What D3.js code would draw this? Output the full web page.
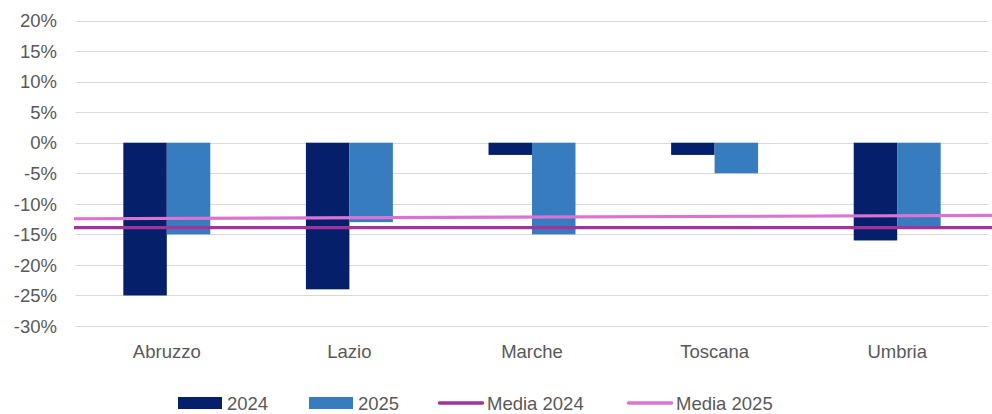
<!DOCTYPE html>
<html>
<head>
<meta charset="utf-8">
<script src="https://cdn.jsdelivr.net/npm/d3@7"></script>
<style>
  html, body { margin: 0; padding: 0; background: #ffffff; }
  svg text { font-family: "Liberation Sans", Arial, sans-serif; fill: #595959; }
</style>
</head>
<body>
<svg id="chart" width="992" height="414"></svg>
<script>
const categories = ["Abruzzo", "Lazio", "Marche", "Toscana", "Umbria"];
const values2024 = [-25, -24, -2, -2, -16];
const values2025 = [-15, -13, -15, -5, -14];
const media2024 = [-13.9, -13.9];   // left end, right end
const media2025 = [-12.45, -11.9];  // left end, right end
const yTicks = [20, 15, 10, 5, 0, -5, -10, -15, -20, -25, -30];
const seriesNames = ["2024", "2025", "Media 2024", "Media 2025"];

const colors = {
  "2024": "#061F6B",
  "2025": "#367CBF",
  "Media 2024": "#A1349A",
  "Media 2025": "#DA73D2"
};

const FS = 18.5;
const svg = d3.select("#chart");
const plotLeft = 75.5, plotRight = 988.5, plotTop = 20.5, plotBottom = 326;

const y = d3.scaleLinear().domain([-30, 20]).range([plotBottom, plotTop]);
const x = d3.scaleBand().domain(categories).range([plotLeft, plotRight]).paddingInner(0).paddingOuter(0);
const inner = d3.scaleBand().domain(["2024", "2025"]).range([0, x.bandwidth()]).paddingInner(0).paddingOuter(1.1);

// gridlines
svg.append("g").selectAll("line").data(yTicks).join("line")
  .attr("x1", plotLeft).attr("x2", plotRight)
  .attr("y1", d => Math.round(y(d)) + 0.5).attr("y2", d => Math.round(y(d)) + 0.5)
  .attr("stroke", "#d9d9d9").attr("stroke-width", 1.2);

// y axis labels
const yAxis = d3.axisLeft(y).tickValues(yTicks).tickSize(0).tickPadding(0)
  .tickFormat(d => d + "%");
svg.append("g").attr("transform", `translate(57,0)`).call(yAxis)
  .call(g => g.select(".domain").remove())
  .selectAll("text").attr("font-size", FS).style("font-family", "\"Liberation Sans\", Arial, sans-serif").attr("fill", "#595959").attr("dy", "0.34em");

// bars
const data = categories.map((c, i) => ({ c, v: [{ s: "2024", v: values2024[i] }, { s: "2025", v: values2025[i] }] }));
const groups = svg.append("g").selectAll("g").data(data).join("g")
  .attr("transform", d => `translate(${x(d.c)},0)`);
groups.selectAll("rect").data(d => d.v).join("rect")
  .attr("x", d => inner(d.s))
  .attr("width", inner.bandwidth())
  .attr("y", d => y(Math.max(0, d.v)))
  .attr("height", d => Math.abs(y(d.v) - y(0)))
  .attr("fill", d => colors[d.s]);

// category labels
const xAxis = d3.axisBottom(x).tickSize(0).tickPadding(0);
svg.append("g").attr("transform", `translate(0,345)`).call(xAxis)
  .call(g => g.select(".domain").remove())
  .selectAll("text").attr("font-size", FS).style("font-family", "\"Liberation Sans\", Arial, sans-serif").attr("fill", "#595959").attr("dy", "0.7em");

// media lines
const xl = d3.scaleLinear().domain([0, 1]).range([74, 992]);
const line = d3.line().x((d, i) => xl(i)).y(d => y(d));
svg.append("path").datum(media2025).attr("d", line)
  .attr("stroke", colors["Media 2025"]).attr("stroke-width", 3.2).attr("fill", "none");
svg.append("path").datum(media2024).attr("d", line)
  .attr("stroke", colors["Media 2024"]).attr("stroke-width", 3.2).attr("fill", "none");

// legend
const legendItems = [
  { name: seriesNames[0], type: "rect", x: 178 },
  { name: seriesNames[1], type: "rect", x: 309 },
  { name: seriesNames[2], type: "line", x: 438 },
  { name: seriesNames[3], type: "line", x: 627 }
];
const lg = svg.append("g");
legendItems.forEach(it => {
  const g = lg.append("g").attr("transform", `translate(${it.x},0)`);
  if (it.type === "rect") {
    g.append("rect").attr("x", 0).attr("y", 397).attr("width", 44).attr("height", 12).attr("fill", colors[it.name]);
  } else {
    g.append("line").attr("x1", 1.5).attr("x2", 44.5).attr("y1", 403).attr("y2", 403)
      .attr("stroke", colors[it.name]).attr("stroke-width", 3.5).attr("stroke-linecap", "round");
  }
  g.append("text").attr("x", 49).attr("y", 403).attr("dy", "0.36em")
    .attr("font-size", FS).text(it.name);
});
</script>
</body>
</html>
